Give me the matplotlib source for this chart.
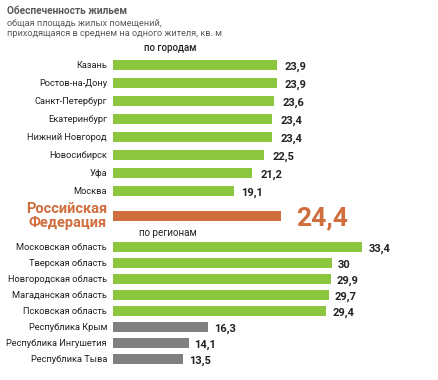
import matplotlib.pyplot as plt

plt.rcParams['font.family'] = ['Roboto', 'DejaVu Sans']

cities = ["Казань", "Ростов-на-Дону", "Санкт-Петербург", "Екатеринбург",
          "Нижний Новгород", "Новосибирск", "Уфа", "Москва"]
city_vals = [23.9, 23.9, 23.6, 23.4, 23.4, 22.5, 21.2, 19.1]

rf_label = "Российская\nФедерация"
rf_val = 24.4

regions = ["Московская область", "Тверская область", "Новгородская область",
           "Магаданская область", "Псковская область", "Республика Крым",
           "Республика Ингушетия", "Республика Тыва"]
region_vals = [33.4, 30, 29.9, 29.7, 29.4, 16.3, 14.1, 13.5]
region_top = [True, True, True, True, True, False, False, False]

GREEN = "#8cc63f"
ORANGE = "#d06e3e"
GRAY = "#808083"
DARK = "#222222"

def fmt(v):
    s = f"{v:.1f}".replace(".", ",")
    return s[:-2] if s.endswith(",0") else s

# vertical axis in pixels; bars start at x0
x0 = 5.7
ppu = 9.0  # pixels per unit
fig = plt.figure(figsize=(4.39, 3.80), dpi=100)
ax = fig.add_axes([0, 0, 1, 1])
ax.set_xlim(x0 - 113 / ppu, x0 + 326 / ppu)
ax.set_ylim(380, 0)
ax.axis("off")

label_x = x0 - 6 / ppu
bh = 10

city_y = [65 + 18 * i for i in range(len(cities))]
ax.barh(city_y, [v - x0 for v in city_vals], left=x0, height=bh, color=GREEN)
for y, name, v in zip(city_y, cities, city_vals):
    ax.text(label_x, y, name, ha="right", va="center", fontsize=6.7, color=DARK)
    ax.text(v + 8 / ppu, y + 2, fmt(v), ha="left", va="center", fontsize=8,
            fontweight="bold", color=DARK)

rf_y = 216
ax.barh([rf_y], [rf_val - x0], left=x0, height=bh, color=ORANGE)
ax.text(label_x, rf_y, rf_label, ha="right", va="center", fontsize=10.5,
        fontweight="bold", color=ORANGE, linespacing=1.05)
ax.text(rf_val + 15 / ppu, rf_y + 2, fmt(rf_val), ha="left", va="center",
        fontsize=19, fontweight="bold", color=ORANGE)

reg_y = [247 + 16 * i for i in range(len(regions))]
ax.barh(reg_y, [v - x0 for v in region_vals], left=x0, height=bh,
        color=[GREEN if t else GRAY for t in region_top])
for y, name, v in zip(reg_y, regions, region_vals):
    ax.text(label_x, y, name, ha="right", va="center", fontsize=6.7, color=DARK)
    ax.text(v + 6 / ppu, y + 2, fmt(v), ha="left", va="center", fontsize=8,
            fontweight="bold", color=DARK)

ax.text(x0 + 57 / ppu, 48, "по городам", ha="center", va="center",
        fontsize=7, fontweight="medium", color=DARK)
ax.text(x0 + 55 / ppu, 233, "по регионам", ha="center", va="center",
        fontsize=7, color=DARK)

tx = x0 - 106 / ppu
ax.text(tx, 11, "Обеспеченность жильем", ha="left", va="center", fontsize=7.3,
        fontweight="bold", color="#5a5a5a")
ax.text(tx, 23, "общая площадь жилых помещений,", ha="left", va="center",
        fontsize=6.6, color="#5a5a5a")
ax.text(tx, 34, "приходящаяся в среднем на одного жителя, кв. м", ha="left",
        va="center", fontsize=6.6, color="#5a5a5a")

fig.savefig("out.png", dpi=100)
